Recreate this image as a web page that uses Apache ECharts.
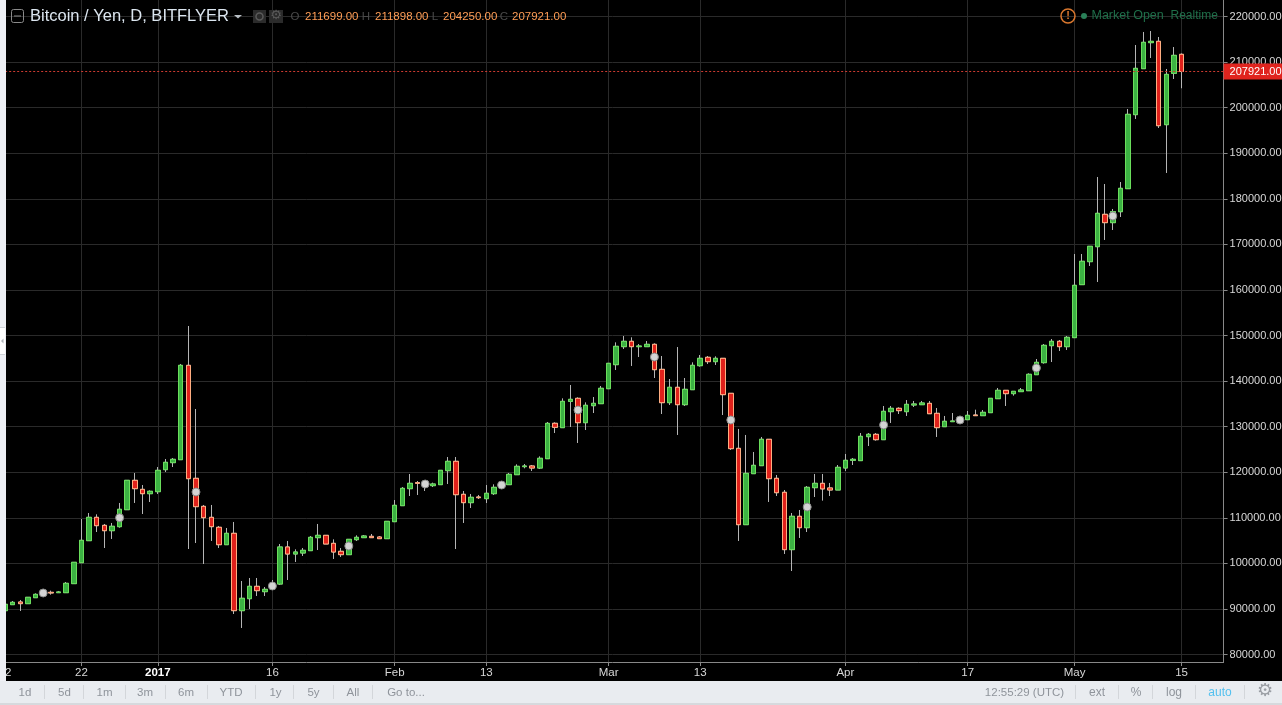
<!DOCTYPE html>
<html><head><meta charset="utf-8">
<style>html,body{margin:0;padding:0;background:#000;overflow:hidden}#c{width:1282px;height:705px}</style>
<script src="https://cdn.jsdelivr.net/npm/echarts@6/dist/echarts.min.js"></script>
</head><body><div id="c"></div>
<script>
// Daily BTC/JPY candles, 12 Dec 2016 .. 15 May 2017
var startDate = [2016, 11, 12];
var opens = [89620,90940,91520,91160,92470,92990,93640,93570,93570,95550,100150,104980,110100,108340,107170,108050,111780,118220,116240,115290,
115730,120560,122100,122750,143450,118660,112510,110100,107910,104100,106590,89620,92250,94960,93790,94300,
95470,103590,102050,102270,102790,105640,106150,104390,102640,101910,105200,105640,105930,105780,105420,109150,112660,116390,117710,116970,117050,117270,120340,122390,115150,113320,114560,114200,115290,116610,117270,119460,121220,121360,120920,122970,
130730,129780,135550,136210,130870,134600,135040,138330,143600,147550,148720,147550,147550,148060,142570,135260,138630,134820,138110,143380,145210,144260,144990,137310,125240,108490,119680,121440,127220,118660,115590,103010,110320,107830,116610,
117560,116540,116100,120930,122610,122540,127800,128310,127140,133290,134020,133290,134750,134820,135110,132920,129990,131090,131170,131530,132550,132410,133070,136140,137970,137240,137680,137890,141400,144040,147770,148720,147550,
149530,161160,166200,169490,176590,174760,177170,182220,198460,208550,214260,214550,196260,207530,211699];
var closes = [91010,91450,91160,92550,93200,94080,93500,93720,95620,100230,105050,110100,108270,107170,108130,111860,118220,116390,115290,115810,
120410,122170,122830,143450,118580,112440,110030,108050,104100,106590,89620,92330,94960,94010,94300,95620,
103590,102050,102490,102860,105710,106150,104250,102490,101910,105270,105710,106000,105640,105420,109220,112730,116460,117560,117560,118000,117410,120410,122390,115070,113320,114490,114410,115370,116680,117780,119530,121290,121360,120920,123050,130720,
129850,135550,135990,130870,134680,135110,138410,143890,147620,148720,147550,147690,148060,142500,135260,138630,134820,138190,143450,144990,144260,144990,137020,125170,108490,119750,121510,127220,118580,115510,103010,110320,107830,116680,117560,
116340,116100,121070,122610,122830,127870,128310,127140,133360,134020,133510,134890,134970,135190,132840,129780,131170,131240,131750,132480,132410,133140,136210,137970,137240,137750,138040,141480,144110,147840,148720,147550,149600,
161010,166280,169570,176810,174760,177170,182290,198530,208620,214330,214550,196040,207300,211470,207921];
var lows = [89620,90860,89550,91160,92470,92990,93130,93500,93570,95550,100150,104980,106880,103370,105350,107830,111780,113250,110830,113460,
115220,120050,121140,122750,103150,104470,99860,104910,103370,104100,88890,85820,89990,92840,92840,94300,
95250,96350,100300,101620,102790,102930,104250,100960,101400,101910,104910,105560,105560,105350,105420,109150,112660,114780,115000,115880,116750,117270,117410,103150,108860,112150,114120,113240,115000,116610,117270,119460,120850,120270,120700,122970,
128600,129780,129920,126410,129260,132990,135040,138330,142430,147040,143310,145280,147550,140670,132770,134750,128170,134530,138110,143160,143750,143530,132550,124880,104910,108490,119680,121440,113470,114780,102060,98320,105570,106880,114560,
113760,114780,116100,120270,121580,122540,125750,126920,127140,130800,132770,132340,134310,134820,132840,127730,129990,131090,131170,131530,132410,132410,133070,136140,134530,136800,137680,137890,141400,143820,144180,146600,146820,
149530,161160,165250,161740,170960,173150,176000,182220,197510,208550,210890,195530,185660,206280,204250];
var highs = [91010,91740,91960,92550,93420,94250,94010,93940,95910,100230,109730,111050,110760,108640,108860,113250,118220,119830,117190,116020,
121140,122900,123120,143750,152080,133870,112810,112810,108200,107760,109080,96130,96790,96790,94810,96350,
104250,104910,103080,103370,106000,108640,106150,105270,103370,105270,106150,106220,106440,106000,109220,113900,116750,119610,118070,118290,117710,120410,123340,123340,115880,115220,115000,117190,117340,117780,119830,121730,121800,121580,123480,131020,
130950,136210,139140,136430,135330,136500,138920,143890,148500,149890,149600,148130,148790,148280,145500,140450,147470,140670,144110,145720,145500,145430,144990,137310,129490,128170,124440,127730,127220,119390,116100,111050,111710,116970,119610,
119610,117640,121580,124000,123120,128600,128600,128600,134530,134530,134240,135840,135630,135630,135630,134090,132340,132990,131750,133430,133720,133650,136210,138480,137970,137750,138480,141700,144840,148130,149230,149010,149890,
167880,167880,169570,184780,183240,177760,183680,199700,213740,216600,216810,215500,208480,213300,211898];
var markerDays = [5,15,25,35,45,55,65,75,85,95,105,115,125,135,145];
var markerPrices = [93500,110020,115660,95030,103810,117410,117190,133650,145280,131460,112360,130360,131460,142870,176220];
var tickDays = [0,10,20,35,51,63,79,91,110,126,140,154];
var tickLabels = ['12','22','2017','16','Feb','13','Mar','13','Apr','17','May','15'];
var priceTicks = [80000,90000,100000,110000,120000,130000,140000,150000,160000,170000,180000,190000,200000,210000,220000];
var lastPrice = 207921;

var FONT = '"Liberation Sans", Arial, sans-serif';
var categories = [];
for (var d = 0; d < 160; d++) {
  var dt = new Date(Date.UTC(startDate[0], startDate[1], startDate[2] + d));
  categories.push(dt.toISOString().slice(0, 10));
}
var candleFull = opens.map(function (o, i) { return [o, closes[i], lows[i], highs[i]]; });
var candleBody = opens.map(function (o, i) { var c = closes[i]; return [o, c, Math.min(o, c), Math.max(o, c)]; });
var markers = markerDays.map(function (d, i) { return [d, markerPrices[i]]; });
function isTick(i) { return tickDays.indexOf(i) >= 0; }

function txt(x, y, s, fill, size, align, extra) {
  return { type: 'text', z: 100, silent: true, x: x, y: y,
    style: Object.assign({ text: s, fill: fill, fontSize: size, fontFamily: FONT, align: align || 'left', verticalAlign: 'middle' }, extra || {}) };
}
function rect(x, y, w, h, fill, extra) {
  return { type: 'rect', z: extra && extra.z || 99, silent: true, shape: { x: x, y: y, width: w, height: h, r: extra && extra.r || 0 },
    style: { fill: fill, stroke: extra && extra.stroke || null, lineWidth: extra && extra.lw || 0 } };
}
var G = [];
// left stripe and bottom toolbar
G.push(rect(0, 0, 6, 705, '#eef0f5'));
G.push(rect(0, 328, 5, 26, '#ffffff'));
G.push(rect(0, 327, 5, 1, '#cfd3d8'));
G.push(rect(0, 354, 5, 1, '#cfd3d8'));
G.push({ type: 'polygon', z: 100, silent: true, shape: { points: [[1, 341], [3.5, 338.5], [3.5, 343.5]] }, style: { fill: '#b0b4ba' } });
G.push(rect(0, 681, 1282, 24, '#e9ecf0'));
G.push(rect(0, 703, 1282, 2, '#d6d9dd'));
var leftBtns = [['1d', 25], ['5d', 64.5], ['1m', 104.5], ['3m', 145], ['6m', 186], ['YTD', 231], ['1y', 275.5], ['5y', 313.5], ['All', 353], ['Go to...', 406]];
leftBtns.forEach(function (b) { G.push(txt(b[1], 692.5, b[0], '#8f949b', 11.5, 'center')); });
[44, 83, 124.5, 165, 206.5, 254.7, 293, 332.6, 372, 1074.5, 1118, 1152, 1195, 1244].forEach(function (x) {
  G.push(rect(Math.round(x), 685, 1, 14, '#d3d6da'));
});
G.push(txt(1024.5, 692.5, '12:55:29 (UTC)', '#8f949b', 11.5, 'center'));
G.push(txt(1097, 692.5, 'ext', '#8f949b', 12, 'center'));
G.push(txt(1136, 692.5, '%', '#8f949b', 12, 'center'));
G.push(txt(1174, 692.5, 'log', '#8f949b', 12, 'center'));
G.push(txt(1220, 692.5, 'auto', '#53c0ef', 12, 'center'));
G.push(txt(1265, 691.5, '\u2699', '#9a9ea4', 18, 'center', { fontFamily: '"DejaVu Sans"' }));
// header
G.push(rect(11.5, 9.5, 12, 13, 'transparent', { stroke: '#8a8a8a', lw: 1, r: 2, z: 100 }));
G.push(rect(14, 15.5, 7, 1, '#8a8a8a', { z: 101 }));
G.push(txt(30, 16, 'Bitcoin / Yen, D, BITFLYER', '#dce6f0', 16.5, 'left'));
G.push({ type: 'polygon', z: 100, silent: true, shape: { points: [[234, 15], [242, 15], [238, 18.5]] }, style: { fill: '#b8bec4' } });
G.push(rect(253, 10, 13, 13, '#2b2b2b'));
G.push(rect(269, 10, 14, 13, '#2b2b2b'));
G.push({ type: 'circle', z: 100, silent: true, shape: { cx: 259.5, cy: 16.5, r: 3.5 }, style: { fill: 'transparent', stroke: '#5a5a5a', lineWidth: 1.5 } });
G.push(txt(276, 16, '\u2699', '#5a5a5a', 13, 'center', { fontFamily: '"DejaVu Sans"' }));
[['O', 295, '211699.00', 305], ['H', 366, '211898.00', 375], ['L', 435, '204250.00', 443], ['C', 504, '207921.00', 512]].forEach(function (r) {
  G.push(txt(r[1], 16.5, r[0], '#4a4a4a', 11.5, 'center'));
  G.push(txt(r[3], 16.5, r[2], '#ff9d55', 11.5, 'left'));
});
// status
G.push({ type: 'circle', z: 100, silent: true, shape: { cx: 1068, cy: 16, r: 7 }, style: { fill: 'transparent', stroke: '#d9772e', lineWidth: 1.5 } });
G.push(txt(1068, 16, '!', '#d9772e', 11, 'center', { fontWeight: 'bold' }));
G.push({ type: 'circle', z: 100, silent: true, shape: { cx: 1084, cy: 16, r: 3 }, style: { fill: '#2a8058' } });
G.push(txt(1091.5, 16, 'Market Open', '#1f6f4a', 12.5, 'left'));
G.push(txt(1170.5, 16, 'Realtime', '#1f6f4a', 12, 'left'));

var chart = echarts.init(document.getElementById('c'), null, { renderer: 'canvas' });
var GRID_LINE = '#2a2a2a', AXIS_LINE = '#888888', LABEL = '#d8d8d8';
chart.setOption({
  animation: false,
  backgroundColor: '#000000',
  textStyle: { fontFamily: FONT },
  grid: { left: 1.18, top: 0, width: 1222.4, height: 662, containLabel: false, outerBoundsMode: 'none' },
  xAxis: {
    type: 'category', data: categories, boundaryGap: true,
    axisLine: { show: true, lineStyle: { color: AXIS_LINE, width: 1 } },
    axisTick: { show: true, alignWithLabel: true, length: 4, lineStyle: { color: AXIS_LINE }, interval: function (i) { return isTick(i); } },
    splitLine: { show: true, alignWithLabel: true, lineStyle: { color: GRID_LINE, width: 1 }, interval: function (i) { return isTick(i); } },
    axisLabel: {
      interval: function (i) { return isTick(i); }, hideOverlap: false, margin: 5, color: LABEL, fontSize: 11.5, fontFamily: FONT,
      formatter: function (v, i) {
        var k = tickDays.indexOf(i); if (k < 0) return '';
        return tickLabels[k] === '2017' ? '{b|2017}' : tickLabels[k];
      },
      rich: { b: { fontWeight: 'bold', color: '#ffffff', fontSize: 11.5, fontFamily: FONT } }
    }
  },
  yAxis: {
    type: 'value', position: 'right', min: 78355, max: 223617, scale: true,
    axisLine: { show: true, onZero: false, lineStyle: { color: AXIS_LINE, width: 1 } },
    axisTick: { show: true, length: 4, lineStyle: { color: AXIS_LINE }, customValues: priceTicks },
    splitLine: { show: true, lineStyle: { color: GRID_LINE, width: 1 } },
    axisLabel: { customValues: priceTicks, margin: 6, color: LABEL, fontSize: 11, fontFamily: FONT, hideOverlap: false, showMinLabel: true, showMaxLabel: true, formatter: function (v) { return v.toFixed(2); } }
  },
  series: [
    { type: 'candlestick', name: 'wicks', data: candleFull, barWidth: 5, silent: true, z: 2,
      itemStyle: { color: '#b5b5b5', color0: '#b5b5b5', borderColor: '#b5b5b5', borderColor0: '#b5b5b5', borderWidth: 1 } },
    { type: 'candlestick', name: 'BTC/JPY', data: candleBody, barWidth: 5, silent: true, z: 3,
      itemStyle: { color: '#3cb243', color0: '#e0211b', borderColor: '#6ade5c', borderColor0: '#ffae82', borderWidth: 1 },
      markLine: {
        silent: true, symbol: 'none', animation: false,
        lineStyle: { color: '#cc3a30', type: [2, 2], width: 1 },
        label: { show: true, position: 'end', distance: 0, formatter: function () { return lastPrice.toFixed(2); },
          backgroundColor: '#e0241e', color: '#ffffff', fontSize: 11, fontFamily: FONT, padding: [2, 6, 2, 6], width: 47, height: 12, lineHeight: 12 },
        data: [{ yAxis: lastPrice }]
      }
    },
    { type: 'scatter', name: 'events', data: markers, symbolSize: 8, silent: true, z: 4,
      itemStyle: { color: '#d4d4d4', borderColor: '#8a8a8a', borderWidth: 1, opacity: 1 } }
  ],
  graphic: { elements: G }
});
</script>
</body></html>
